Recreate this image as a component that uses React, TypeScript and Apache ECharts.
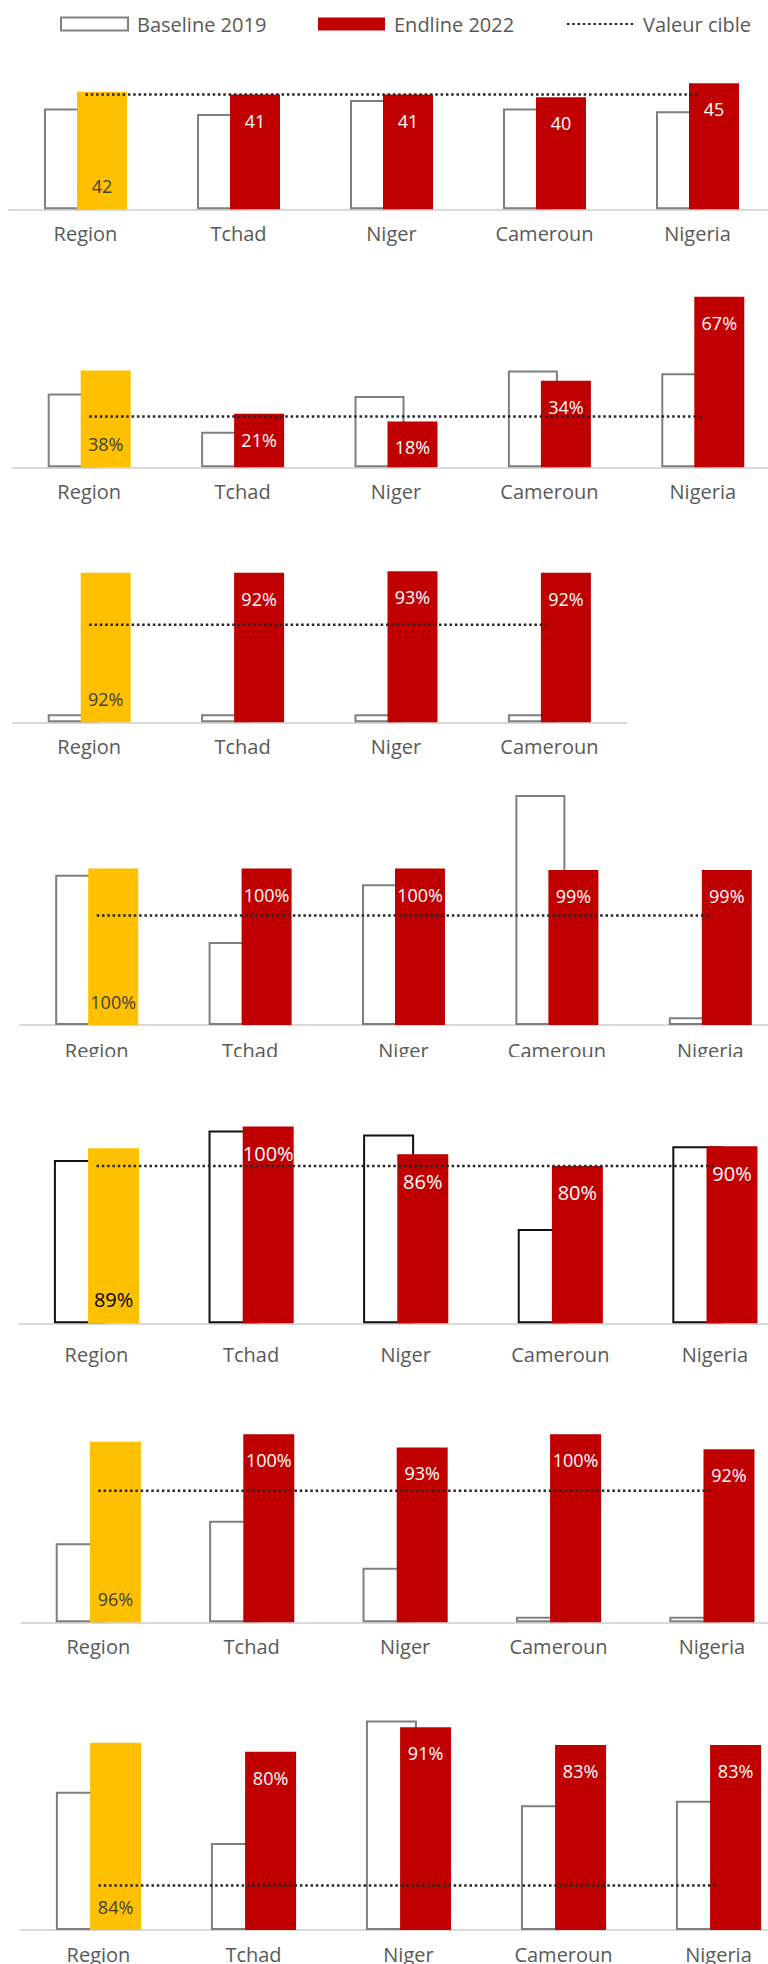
import React, { useEffect, useRef } from 'react';
import * as echarts from 'echarts';

// ---------- data ----------
const categories = ['Region', 'Tchad', 'Niger', 'Cameroun', 'Nigeria'];
const categoriesNoNigeria = ['Region', 'Tchad', 'Niger', 'Cameroun'];

const baseline1 = [36, 34, 39, 36, 35];
const endline1 = [42, 41, 41, 40, 45];
const target1 = 41;

const baseline2 = [29, 14, 28, 38, 37];
const endline2 = [38, 21, 18, 34, 67];
const target2 = 20;

const baseline3 = [5, 5, 5, 5];
const endline3 = [92, 92, 93, 92];
const target3 = 60;

const baseline4 = [96, 53, 90, 147, 5];
const endline4 = [100, 100, 100, 99, 99];
const target4 = 70;

const baseline5 = [83, 98, 96, 48, 90];
const endline5 = [89, 100, 86, 80, 90];
const target5 = 80;

const baseline6 = [42, 54, 29, 3, 3];
const endline6 = [96, 100, 93, 100, 92];
const target6 = 70;

const baseline7 = [62, 39, 94, 56, 58];
const endline7 = [84, 80, 91, 83, 83];
const target7 = 20;

const panels = [
  { cats: categories, baseline: baseline1, endline: endline1, target: target1, unit: '' },
  { cats: categories, baseline: baseline2, endline: endline2, target: target2, unit: '%' },
  { cats: categoriesNoNigeria, baseline: baseline3, endline: endline3, target: target3, unit: '%' },
  { cats: categories, baseline: baseline4, endline: endline4, target: target4, unit: '%' },
  { cats: categories, baseline: baseline5, endline: endline5, target: target5, unit: '%' },
  { cats: categories, baseline: baseline6, endline: endline6, target: target6, unit: '%' },
  { cats: categories, baseline: baseline7, endline: endline7, target: target7, unit: '%' },
];

// ---------- layout (pixels) ----------
const layout = [
  { left: 9, cw: 153, axisY: 209.3, k: 2.8, max: 60, barW: 50, gap: '-34%', margin: 14, vSize: 18, outline: '#7f7f7f', regionColor: '#404040' },
  { left: 12.5, cw: 153.4, axisY: 467.3, k: 2.545, max: 80, barW: 50, gap: '-34%', margin: 14, vSize: 18, outline: '#7f7f7f', regionColor: '#404040' },
  { left: 12.5, cw: 153.4, axisY: 722.3, k: 1.625, max: 100, barW: 50, gap: '-34%', margin: 14, vSize: 18, outline: '#7f7f7f', regionColor: '#404040' },
  { left: 20, cw: 153.4, axisY: 1025, k: 1.565, max: 150, barW: 50, gap: '-34%', margin: 15, vSize: 18, outline: '#7f7f7f', regionColor: '#404040' },
  { left: 19.2, cw: 154.6, axisY: 1323.3, k: 1.967, max: 110, barW: 51, gap: '-33%', margin: 21, vSize: 20, outline: '#111111', regionColor: '#000000' },
  { left: 21.6, cw: 153.4, axisY: 1622.3, k: 1.88, max: 110, barW: 51, gap: '-33%', margin: 14, vSize: 18, outline: '#7f7f7f', regionColor: '#404040' },
  { left: 21, cw: 155, axisY: 1930.5, k: 2.234, max: 100, barW: 51, gap: '-33%', margin: 14, vSize: 18, outline: '#7f7f7f', regionColor: '#404040' },
];

const FONT = '"Open Sans", "Noto Sans", sans-serif';
const RED = '#C00000';
const GOLD = '#FFC000';
const GREY_TEXT = '#595959';

function buildOption() {
  const grid: any[] = [];
  const xAxis: any[] = [];
  const yAxis: any[] = [];
  const series: any[] = [];

  panels.forEach((p, i) => {
    const L = layout[i];
    const h = L.max * L.k;
    grid.push({ left: L.left, top: L.axisY - h, width: L.cw * p.cats.length, height: h });
    xAxis.push({
      type: 'category',
      gridIndex: i,
      data: p.cats,
      axisLine: { show: true, lineStyle: { color: '#d9d9d9', width: 2 } },
      axisTick: { show: false },
      axisLabel: { margin: L.margin, color: GREY_TEXT, fontSize: 20, fontFamily: FONT },
      splitLine: { show: false },
    });
    yAxis.push({ type: 'value', gridIndex: i, min: 0, max: L.max, show: false, splitLine: { show: false } });

    series.push({
      name: 'Baseline 2019',
      type: 'bar',
      xAxisIndex: i,
      yAxisIndex: i,
      barWidth: L.barW,
      barGap: L.gap,
      data: p.baseline,
      itemStyle: { color: '#ffffff', borderColor: L.outline, borderWidth: 2 },
      silent: true,
    });
    series.push({
      name: 'Endline 2022',
      type: 'bar',
      xAxisIndex: i,
      yAxisIndex: i,
      barWidth: L.barW,
      barGap: L.gap,
      itemStyle: { color: RED },
      label: {
        show: true,
        position: 'insideTop',
        distance: 17,
        color: '#ffffff',
        fontSize: L.vSize,
        fontFamily: FONT,
        formatter: (d: any) => `${d.value}${p.unit}`,
      },
      data: p.endline.map((v, j) =>
        j === 0
          ? {
              value: v,
              itemStyle: { color: GOLD },
              label: { position: 'insideBottom', distance: 14, color: L.regionColor },
            }
          : v
      ),
      silent: true,
    });
    series.push({
      name: 'Valeur cible',
      type: 'line',
      xAxisIndex: i,
      yAxisIndex: i,
      symbol: 'none',
      data: p.cats.map(() => p.target),
      lineStyle: { color: '#262626', width: 2.5, type: [2.5, 2.8] },
      itemStyle: { color: '#262626' },
      z: 5,
      silent: true,
    });
  });

  const legendBase = {
    top: 9,
    itemWidth: 67,
    itemHeight: 13,
    selectedMode: false,
    textStyle: { color: GREY_TEXT, fontSize: 20, fontFamily: FONT, padding: [0, 0, 0, 4] },
  };

  return {
    animation: false,
    textStyle: { fontFamily: FONT },
    legend: [
      {
        ...legendBase,
        left: 55,
        data: [{ name: 'Baseline 2019', icon: 'rect', itemStyle: { color: '#ffffff', borderColor: '#7f7f7f', borderWidth: 2 } }],
      },
      {
        ...legendBase,
        left: 313,
        data: [{ name: 'Endline 2022', icon: 'rect', itemStyle: { color: RED } }],
      },
      {
        ...legendBase,
        left: 561,
        data: [{ name: 'Valeur cible', itemStyle: { color: 'rgba(0,0,0,0)', borderColor: 'rgba(0,0,0,0)', borderWidth: 0 } }],
      },
    ],
    grid,
    xAxis,
    yAxis,
    series,
    graphic: [
      { type: 'rect', shape: { x: 0, y: 1057, width: 800, height: 22 }, style: { fill: '#ffffff' }, z: 100 },
    ],
  };
}

export default function App() {
  const ref = useRef<HTMLDivElement>(null);
  useEffect(() => {
    if (!ref.current) return;
    const chart = echarts.init(ref.current, undefined, { renderer: 'svg' });
    chart.setOption(buildOption() as any);
    return () => chart.dispose();
  }, []);
  return (
    <div style={{ position: 'absolute', left: 0, top: 0, width: 768, height: 1964, overflow: 'hidden', background: '#fff' }}>
      <div ref={ref} style={{ width: 800, height: 1964 }} />
    </div>
  );
}
